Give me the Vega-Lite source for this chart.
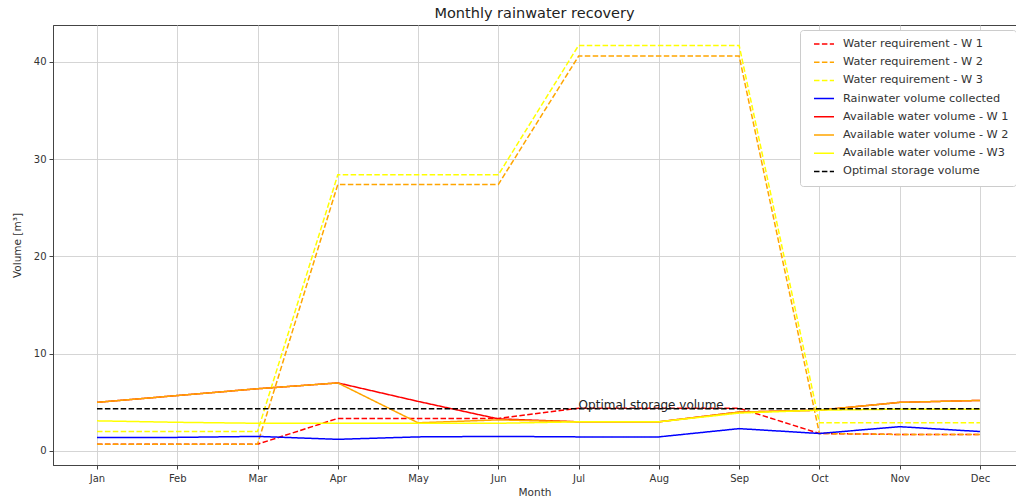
{
  "$schema": "https://vega.github.io/schema/vega-lite/v6.json",
  "width": 963,
  "height": 440,
  "autosize": {"type": "none"},
  "padding": {"left": 53, "top": 25, "right": 0, "bottom": 37},
  "background": "white",
  "title": {"text": "Monthly rainwater recovery", "fontSize": 14.5, "fontWeight": "normal", "font": "DejaVu Sans", "color": "#222", "offset": 4, "anchor": "middle"},
  "config": {
    "font": "DejaVu Sans",
    "view": {"stroke": "#444", "strokeWidth": 1},
    "axis": {"labelFont": "DejaVu Sans", "titleFont": "DejaVu Sans", "labelFontSize": 10, "titleFontSize": 10.5, "titleFontWeight": "normal", "labelColor": "#333", "titleColor": "#333", "tickColor": "#444", "domainColor": "#444", "tickSize": 4, "gridColor": "#d0d0d0", "gridWidth": 0.9}
  },
  "datasets": {
    "lines": [
      {"m": 0, "series": "Water requirement - W 1", "v": 0.7},
      {"m": 1, "series": "Water requirement - W 1", "v": 0.7},
      {"m": 2, "series": "Water requirement - W 1", "v": 0.7},
      {"m": 3, "series": "Water requirement - W 1", "v": 3.35},
      {"m": 4, "series": "Water requirement - W 1", "v": 3.35},
      {"m": 5, "series": "Water requirement - W 1", "v": 3.35},
      {"m": 6, "series": "Water requirement - W 1", "v": 4.4},
      {"m": 7, "series": "Water requirement - W 1", "v": 4.4},
      {"m": 8, "series": "Water requirement - W 1", "v": 4.4},
      {"m": 9, "series": "Water requirement - W 1", "v": 1.8},
      {"m": 10, "series": "Water requirement - W 1", "v": 1.7},
      {"m": 11, "series": "Water requirement - W 1", "v": 1.7},
      {"m": 0, "series": "Water requirement - W 2", "v": 0.7},
      {"m": 1, "series": "Water requirement - W 2", "v": 0.7},
      {"m": 2, "series": "Water requirement - W 2", "v": 0.7},
      {"m": 3, "series": "Water requirement - W 2", "v": 27.4},
      {"m": 4, "series": "Water requirement - W 2", "v": 27.4},
      {"m": 5, "series": "Water requirement - W 2", "v": 27.4},
      {"m": 6, "series": "Water requirement - W 2", "v": 40.6},
      {"m": 7, "series": "Water requirement - W 2", "v": 40.6},
      {"m": 8, "series": "Water requirement - W 2", "v": 40.6},
      {"m": 9, "series": "Water requirement - W 2", "v": 1.8},
      {"m": 10, "series": "Water requirement - W 2", "v": 1.7},
      {"m": 11, "series": "Water requirement - W 2", "v": 1.7},
      {"m": 0, "series": "Water requirement - W 3", "v": 2.0},
      {"m": 1, "series": "Water requirement - W 3", "v": 2.0},
      {"m": 2, "series": "Water requirement - W 3", "v": 2.0},
      {"m": 3, "series": "Water requirement - W 3", "v": 28.4},
      {"m": 4, "series": "Water requirement - W 3", "v": 28.4},
      {"m": 5, "series": "Water requirement - W 3", "v": 28.4},
      {"m": 6, "series": "Water requirement - W 3", "v": 41.7},
      {"m": 7, "series": "Water requirement - W 3", "v": 41.7},
      {"m": 8, "series": "Water requirement - W 3", "v": 41.7},
      {"m": 9, "series": "Water requirement - W 3", "v": 2.9},
      {"m": 10, "series": "Water requirement - W 3", "v": 2.9},
      {"m": 11, "series": "Water requirement - W 3", "v": 2.9},
      {"m": 0, "series": "Rainwater volume collected", "v": 1.4},
      {"m": 1, "series": "Rainwater volume collected", "v": 1.4},
      {"m": 2, "series": "Rainwater volume collected", "v": 1.5},
      {"m": 3, "series": "Rainwater volume collected", "v": 1.2},
      {"m": 4, "series": "Rainwater volume collected", "v": 1.45},
      {"m": 5, "series": "Rainwater volume collected", "v": 1.5},
      {"m": 6, "series": "Rainwater volume collected", "v": 1.45},
      {"m": 7, "series": "Rainwater volume collected", "v": 1.45},
      {"m": 8, "series": "Rainwater volume collected", "v": 2.3},
      {"m": 9, "series": "Rainwater volume collected", "v": 1.8},
      {"m": 10, "series": "Rainwater volume collected", "v": 2.5},
      {"m": 11, "series": "Rainwater volume collected", "v": 2.0},
      {"m": 0, "series": "Available water volume - W 1", "v": 5.0},
      {"m": 1, "series": "Available water volume - W 1", "v": 5.7},
      {"m": 2, "series": "Available water volume - W 1", "v": 6.4},
      {"m": 3, "series": "Available water volume - W 1", "v": 7.0},
      {"m": 4, "series": "Available water volume - W 1", "v": 5.1},
      {"m": 5, "series": "Available water volume - W 1", "v": 3.3},
      {"m": 6, "series": "Available water volume - W 1", "v": 3.0},
      {"m": 7, "series": "Available water volume - W 1", "v": 3.0},
      {"m": 8, "series": "Available water volume - W 1", "v": 4.0},
      {"m": 9, "series": "Available water volume - W 1", "v": 4.2},
      {"m": 10, "series": "Available water volume - W 1", "v": 5.0},
      {"m": 11, "series": "Available water volume - W 1", "v": 5.2},
      {"m": 0, "series": "Available water volume - W 2", "v": 5.0},
      {"m": 1, "series": "Available water volume - W 2", "v": 5.7},
      {"m": 2, "series": "Available water volume - W 2", "v": 6.4},
      {"m": 3, "series": "Available water volume - W 2", "v": 7.0},
      {"m": 4, "series": "Available water volume - W 2", "v": 2.9},
      {"m": 5, "series": "Available water volume - W 2", "v": 3.2},
      {"m": 6, "series": "Available water volume - W 2", "v": 3.0},
      {"m": 7, "series": "Available water volume - W 2", "v": 3.0},
      {"m": 8, "series": "Available water volume - W 2", "v": 4.0},
      {"m": 9, "series": "Available water volume - W 2", "v": 4.2},
      {"m": 10, "series": "Available water volume - W 2", "v": 5.0},
      {"m": 11, "series": "Available water volume - W 2", "v": 5.2},
      {"m": 0, "series": "Available water volume - W3", "v": 3.1},
      {"m": 1, "series": "Available water volume - W3", "v": 2.95},
      {"m": 2, "series": "Available water volume - W3", "v": 2.85},
      {"m": 3, "series": "Available water volume - W3", "v": 2.85},
      {"m": 4, "series": "Available water volume - W3", "v": 2.85},
      {"m": 5, "series": "Available water volume - W3", "v": 2.85},
      {"m": 6, "series": "Available water volume - W3", "v": 3.0},
      {"m": 7, "series": "Available water volume - W3", "v": 3.0},
      {"m": 8, "series": "Available water volume - W3", "v": 3.9},
      {"m": 9, "series": "Available water volume - W3", "v": 4.2},
      {"m": 10, "series": "Available water volume - W3", "v": 4.3},
      {"m": 11, "series": "Available water volume - W3", "v": 4.3},
      {"m": 0, "series": "Optimal storage volume", "v": 4.35},
      {"m": 1, "series": "Optimal storage volume", "v": 4.35},
      {"m": 2, "series": "Optimal storage volume", "v": 4.35},
      {"m": 3, "series": "Optimal storage volume", "v": 4.35},
      {"m": 4, "series": "Optimal storage volume", "v": 4.35},
      {"m": 5, "series": "Optimal storage volume", "v": 4.35},
      {"m": 6, "series": "Optimal storage volume", "v": 4.35},
      {"m": 7, "series": "Optimal storage volume", "v": 4.35},
      {"m": 8, "series": "Optimal storage volume", "v": 4.35},
      {"m": 9, "series": "Optimal storage volume", "v": 4.35},
      {"m": 10, "series": "Optimal storage volume", "v": 4.35},
      {"m": 11, "series": "Optimal storage volume", "v": 4.35}
    ],
    "notes": [
      {"m": 6, "v": 4.35, "label": "Optimal storage volume"}
    ]
  },
  "layer": [
    {
      "data": {"name": "lines"},
      "mark": {"type": "line", "strokeWidth": 1.5, "clip": true},
      "encoding": {
        "x": {"field": "m", "type": "quantitative", "scale": {"domain": [-0.548, 11.449], "nice": false, "zero": false},
          "axis": {"title": "Month", "values": [0,1,2,3,4,5,6,7,8,9,10,11], "labelExpr": "['Jan','Feb','Mar','Apr','May','Jun','Jul','Aug','Sep','Oct','Nov','Dec'][datum.value]", "labelPadding": 4, "titlePadding": 4, "grid": true, "labelFlush": false}},
        "y": {"field": "v", "type": "quantitative", "scale": {"domain": [-1.44, 43.8], "nice": false, "zero": false},
          "axis": {"title": "Volume [m³]", "values": [0,10,20,30,40], "labelPadding": 3, "titlePadding": 11, "grid": true}},
        "color": {"field": "series", "type": "nominal",
          "scale": {"domain": ["Water requirement - W 1","Water requirement - W 2","Water requirement - W 3","Rainwater volume collected","Available water volume - W 1","Available water volume - W 2","Available water volume - W3","Optimal storage volume"],
            "range": ["#ff0000","#ffa500","#ffff00","#0000ff","#ff0000","#ffa500","#ffff00","#000000"]},
          "legend": {"title": null, "orient": "none", "legendX": 747, "legendY": 5, "symbolType": "stroke", "symbolSize": 400, "symbolStrokeWidth": 1.5, "labelFontSize": 11.3, "labelColor": "#333", "labelFont": "DejaVu Sans", "fillColor": "white", "strokeColor": "#cccccc", "cornerRadius": 3, "padding": 7, "clipHeight": 14, "rowPadding": 4.2, "labelLimit": 300, "symbolOffset": 6, "labelOffset": 8}},
        "strokeDash": {"field": "series", "type": "nominal",
          "scale": {"domain": ["Water requirement - W 1","Water requirement - W 2","Water requirement - W 3","Rainwater volume collected","Available water volume - W 1","Available water volume - W 2","Available water volume - W3","Optimal storage volume"],
            "range": [[5.5,2.4],[5.5,2.4],[5.5,2.4],[1,0],[1,0],[1,0],[1,0],[5.5,2.4]]},
          "legend": {"title": null, "orient": "none", "legendX": 747, "legendY": 5, "symbolType": "stroke", "symbolSize": 400, "symbolStrokeWidth": 1.5, "labelFontSize": 11.3, "labelColor": "#333", "labelFont": "DejaVu Sans", "fillColor": "white", "strokeColor": "#cccccc", "cornerRadius": 3, "padding": 7, "clipHeight": 14, "rowPadding": 4.2, "labelLimit": 300, "symbolOffset": 6, "labelOffset": 8}}
      }
    },
    {
      "data": {"name": "notes"},
      "mark": {"type": "text", "align": "left", "baseline": "alphabetic", "fontSize": 12, "font": "DejaVu Sans", "color": "#222"},
      "encoding": {
        "x": {"field": "m", "type": "quantitative"},
        "y": {"field": "v", "type": "quantitative"},
        "text": {"field": "label"}
      }
    }
  ]
}
